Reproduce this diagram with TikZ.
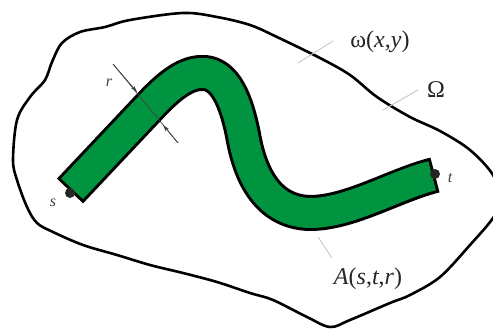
\documentclass[tikz,border=0pt]{standalone}
\usepackage{fontspec}
\setmainfont{Liberation Serif}
\usetikzlibrary{arrows.meta, calc}
\definecolor{tubecol}{rgb}{0.00, 0.58, 0.25}
\definecolor{leadcol}{rgb}{0.78, 0.78, 0.78}
\tikzset{
  region/.style={draw=black, line width=2.6pt, line join=round},
  tube outline/.style={draw=black, line width=36pt, line cap=butt, line join=round},
  tube fill/.style={draw=tubecol, line width=30pt, line cap=butt, line join=round,
                    shorten <=3pt, shorten >=3pt},
  end dot/.style={circle, fill=black!85, minimum size=10pt, inner sep=0pt},
  leader/.style={draw=leadcol, line width=0.9pt},
  dimline/.style={draw=black!75, line width=0.7pt},
  dimarr/.style={dimline, -{Stealth[length=7pt, width=4pt]}},
  lbl/.style={font=\fontsize{24}{28}\selectfont, inner sep=0pt, text=black!85},
  small lbl/.style={font=\fontsize{16}{18}\selectfont\itshape, inner sep=0pt, text=black!75},
}

\begin{document}
\begin{tikzpicture}[x=1pt, y=-1pt]
    \useasboundingbox (0,0) rectangle (493,331);
    \clip (0,0) rectangle (493,331);

    % domain
    \draw[region] plot[smooth cycle, tension=0.55] coordinates {
      (13,160) (17,120) (30,97) (45,80) (52,62) (62,43) (80,32) (105,27)
      (130,20) (183,13) (217,17) (250,25) (277,37) (320,58) (350,75)
      (377,97) (410,117) (440,131) (470,150) (493,175) (500,200) (493,218)
      (470,245) (440,277) (410,295) (390,303) (350,320) (330,327) (307,317)
      (273,300) (250,293) (217,282) (183,273) (150,265) (117,255) (83,245)
      (53,232) (37,223) (27,207) (17,180)};

    % tube
    \coordinate (S) at (70,191);
    \coordinate (T) at (435,175);
    \foreach \sty in {tube outline, tube fill}
      \draw[\sty] (S) -- (153,103)
        .. controls (175,80) and (190,72) .. (205,73)
        .. controls (225,75) and (236,100) .. (243,135)
        .. controls (249,170) and (265,212) .. (310,213)
        .. controls (350,213) and (395,185) .. (T);
    \node[end dot] (sdot) at (70,193) {};
    \node[end dot] (tdot) at (435,174) {};
    \node[small lbl] (slbl) at (53,203) {s};
    \node[small lbl] (tlbl) at (450,178) {t};

    % width r
    \coordinate (r1) at (113,64);
    \coordinate (r2) at (178,143);
    \coordinate (ra) at (137,92);
    \coordinate (rb) at (163,125);
    \draw[dimline] (r1) -- (r2);
    \draw[dimarr] (r1) -- (ra);
    \draw[dimarr] (r2) -- (rb);
    \node[small lbl] (rlbl) at (109,83) {r};

    % labels
    \node[lbl] (wlbl) at (380,42) {ω(\textit{x},\textit{y})};
    \node[lbl] (Olbl) at (436,90) {Ω};
    \node[lbl] (Albl) at (368,279) {\textit{A}(\textit{s},\textit{t},\textit{r})};
    \coordinate (wtip) at (298,63);
    \coordinate (wend) at (333,41);
    \coordinate (Otip) at (383,110);
    \coordinate (Oend) at (418,90);
    \coordinate (Atip) at (318,237);
    \coordinate (Aend) at (332,258);
    \draw[leader] (wtip) -- (wend);
    \draw[leader] (Otip) -- (Oend);
    \draw[leader] (Atip) -- (Aend);
\end{tikzpicture}
\end{document}
